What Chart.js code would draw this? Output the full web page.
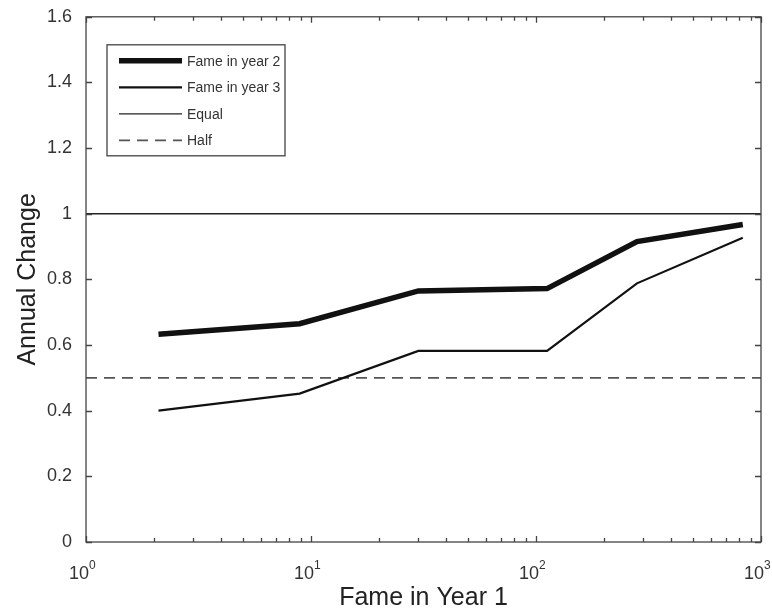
<!DOCTYPE html>
<html>
<head>
<meta charset="utf-8">
<script src="https://cdn.jsdelivr.net/npm/chart.js@4.4.0/dist/chart.umd.min.js"></script>
<style>
  html, body { margin: 0; padding: 0; background: #fff; }
  #wrap { width: 772px; height: 613px; }
</style>
</head>
<body>
<div id="wrap"><canvas id="fame-chart"></canvas></div>
<script>
// values
const fameYear1 = [2.1, 8.9, 30, 112, 281, 830]
const fameYear2 = [0.633, 0.665, 0.765, 0.772, 0.915, 0.967]
const fameYear3 = [0.40, 0.452, 0.582, 0.582, 0.788, 0.927]
const refX = [1, 1000]
const equalLine = [1, 1]
const halfLine = [0.5, 0.5]
const xTickExps = [0, 1, 2, 3]
const yTicks = [0, 0.2, 0.4, 0.6, 0.8, 1, 1.2, 1.4, 1.6]

const pts = (xs, ys) => xs.map((x, i) => ({ x, y: ys[i] }))
const ink = "#222"
const font = "'Liberation Sans', Arial, sans-serif"

// box frame, inward ticks, superscript x labels and the legend
const framePlugin = {
  id: "frame",
  afterDraw(chart) {
    const { ctx, chartArea: a, scales } = chart
    const xs = scales.x, ys = scales.y
    ctx.save()
    ctx.strokeStyle = "#444"
    ctx.lineWidth = 1.3
    ctx.strokeRect(a.left, a.top, a.right - a.left, a.bottom - a.top)

    ctx.beginPath()
    for (let e = 0; e < 3; e++) {
      for (let m = 1; m <= 10; m++) {
        const v = m * Math.pow(10, e)
        const px = Math.round(xs.getPixelForValue(v)) + 0.5
        const len = (m === 1 || m === 10) ? 6 : 4
        ctx.moveTo(px, a.bottom); ctx.lineTo(px, a.bottom - len)
        ctx.moveTo(px, a.top); ctx.lineTo(px, a.top + len)
      }
    }
    yTicks.forEach((v) => {
      const py = Math.round(ys.getPixelForValue(v)) + 0.5
      ctx.moveTo(a.left, py); ctx.lineTo(a.left + 6, py)
      ctx.moveTo(a.right, py); ctx.lineTo(a.right - 6, py)
    })
    ctx.stroke()

    ctx.fillStyle = "#333"
    ctx.textBaseline = "alphabetic"
    xTickExps.forEach((e) => {
      const px = xs.getPixelForValue(Math.pow(10, e))
      ctx.font = "18px " + font
      ctx.textAlign = "right"
      ctx.fillText("10", px + 3, a.bottom + 37)
      ctx.font = "12px " + font
      ctx.textAlign = "left"
      ctx.fillText(String(e), px + 3, a.bottom + 27)
    })

    // legend box
    const lx = a.left + 21, ly = a.top + 28, lw = 178, lh = 111
    ctx.strokeStyle = "#444"
    ctx.lineWidth = 1.3
    ctx.strokeRect(lx, ly, lw, lh)
    ctx.font = "14px " + font
    ctx.textAlign = "left"
    ctx.textBaseline = "middle"
    chart.data.datasets.forEach((ds, i) => {
      const ry = ly + 16 + i * 26.5
      ctx.beginPath()
      ctx.strokeStyle = ds.borderColor
      ctx.lineWidth = ds.borderWidth
      ctx.setLineDash(ds.borderDash || [])
      ctx.moveTo(lx + 12, ry); ctx.lineTo(lx + 75, ry)
      ctx.stroke()
      ctx.setLineDash([])
      ctx.fillStyle = "#333"
      ctx.fillText(ds.label, lx + 80, ry + 1)
    })
    ctx.restore()
  }
}

new Chart(document.getElementById("fame-chart"), {
  type: "line",
  data: {
    datasets: [
      { label: "Fame in year 2", data: pts(fameYear1, fameYear2), borderColor: "#111", borderWidth: 5.5 },
      { label: "Fame in year 3", data: pts(fameYear1, fameYear3), borderColor: "#111", borderWidth: 2.2 },
      { label: "Equal", data: pts(refX, equalLine), borderColor: "#222", borderWidth: 1.3 },
      { label: "Half", data: pts(refX, halfLine), borderColor: "#555", borderWidth: 1.8, borderDash: [11, 7] },
    ],
  },
  options: {
    responsive: true,
    maintainAspectRatio: false,
    animation: false,
    layout: { padding: { top: 14, right: 11, left: 0, bottom: 0 } },
    elements: { point: { radius: 0 }, line: { tension: 0 } },
    plugins: { legend: { display: false }, tooltip: { enabled: false } },
    scales: {
      x: {
        type: "logarithmic",
        min: 1,
        max: 1000,
        grid: { display: false },
        border: { display: false },
        ticks: { display: false },
        title: {
          display: true,
          text: "Fame in Year 1",
          color: ink,
          font: { family: font, size: 25 },
          padding: { top: 37, bottom: 0 },
        },
        afterFit: (s) => { s.height = 71 },
      },
      y: {
        min: 0,
        max: 1.6,
        afterBuildTicks: (s) => { s.ticks = yTicks.map((v) => ({ value: v })) },
        grid: { display: false },
        border: { display: false },
        ticks: {
          color: "#333",
          padding: 6,
          font: { family: font, size: 18 },
          callback: (v) => String(Math.round(v * 10) / 10),
        },
        title: {
          display: true,
          text: "Annual Change",
          color: ink,
          font: { family: font, size: 25 },
          padding: { top: 13, bottom: 0 },
        },
        afterFit: (s) => { s.width = 86 },
      },
    },
  },
  plugins: [framePlugin],
})
</script>
</body>
</html>
